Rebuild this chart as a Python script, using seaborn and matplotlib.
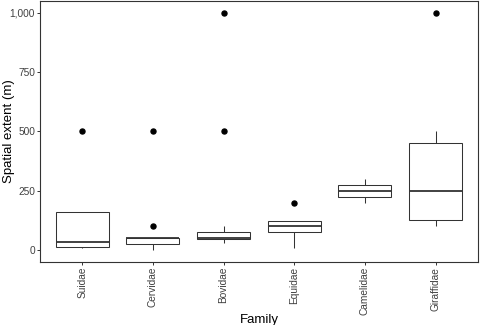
import numpy as np
import pandas as pd
import matplotlib
matplotlib.use("Agg")
import matplotlib.pyplot as plt
import seaborn as sns
from matplotlib.ticker import FixedLocator

families = ["Suidae", "Cervidae", "Bovidae", "Equidae", "Camelidae", "Giraffidae"]
suidae = [10, 15, 35, 160, 500]
cervidae = [0, 20, 25, 50, 50, 50, 50, 100, 500]
bovidae = [30, 40, 45, 45, 50, 50, 50, 60, 70, 75, 100, 500, 1000]
equidae = [10, 50, 75, 90, 100, 110, 122, 122, 200]
camelidae = [200, 225, 250, 275, 300]
giraffidae = [100, 110, 125, 200, 250, 300, 450, 500, 1000]
y_ticks = [0, 250, 500, 750, 1000]
y_ticklabels = ["0", "250", "500", "750", "1,000"]

values = [suidae, cervidae, bovidae, equidae, camelidae, giraffidae]
df = pd.DataFrame({
    "Family": [f for f, v in zip(families, values) for _ in v],
    "extent": [x for v in values for x in v],
})

sns.set_style("white")
plt.rcParams["font.family"] = ["Liberation Sans", "DejaVu Sans"]

fig = plt.figure(figsize=(4.8, 3.25), dpi=100)
ax = fig.add_axes([0.083, 0.194, 0.913, 0.803])

line_c = "#333333"
sns.boxplot(data=df, x="Family", y="extent", order=families, ax=ax,
            width=0.75, color="white", linecolor=line_c, linewidth=0.75,
            showcaps=False, whis=1.5,
            boxprops=dict(facecolor="white", edgecolor=line_c, linewidth=0.75),
            whiskerprops=dict(color=line_c, linewidth=0.75),
            medianprops=dict(color=line_c, linewidth=1.3),
            flierprops=dict(marker="o", markerfacecolor="black",
                            markeredgecolor="black", markersize=3.6))

ax.set_xlim(-0.6, len(families) - 0.4)
ax.set_ylim(-50, 1050)
ax.yaxis.set_major_locator(FixedLocator(y_ticks))
ax.set_yticklabels(y_ticklabels)
ax.tick_params(axis="both", which="major", direction="out", length=2.5,
               width=0.7, color=line_c, labelsize=7.3, labelcolor="#404040",
               left=True, bottom=True, pad=1)
ax.tick_params(axis="x", labelrotation=90)
ax.set_xlabel("Family", fontsize=9.5, color="black", va="top")
ax.set_ylabel("Spatial extent (m)", fontsize=9.5, color="black")
ax.xaxis.set_label_coords(0.5, -0.200)
ax.yaxis.set_label_coords(-0.056, 0.5)
for s in ax.spines.values():
    s.set_visible(True)
    s.set_color(line_c)
    s.set_linewidth(0.8)
ax.grid(False)

fig.savefig("out.png", dpi=100)
